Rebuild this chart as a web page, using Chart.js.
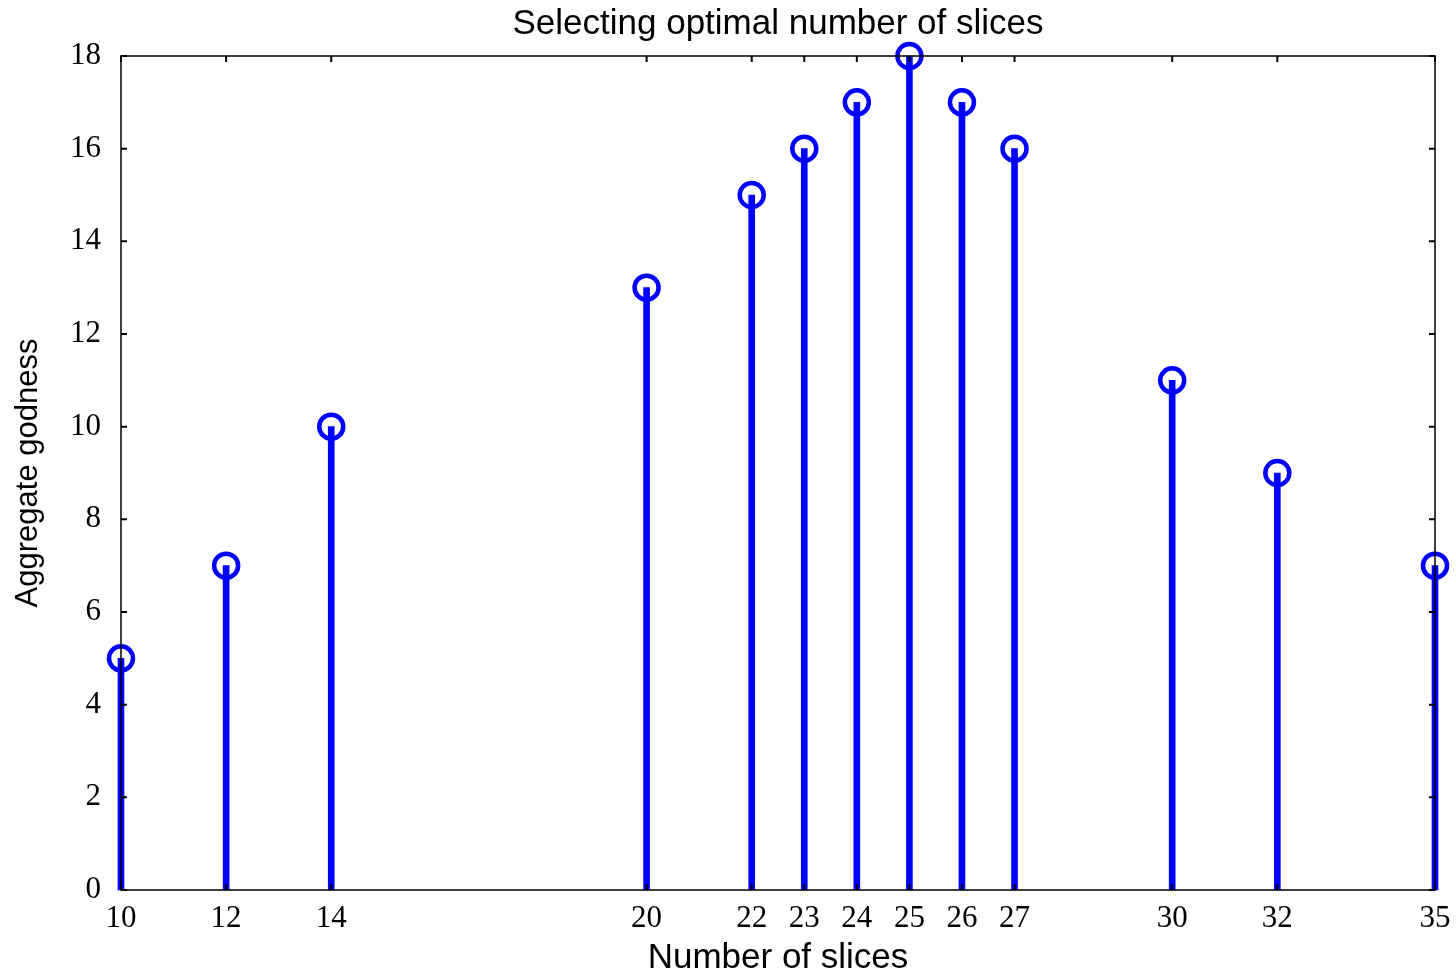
<!DOCTYPE html>
<html>
<head>
<meta charset="utf-8">
<script src="https://cdn.jsdelivr.net/npm/chart.js@4"></script>
<style>
  body { margin: 0; background: #fff; }
</style>
</head>
<body>
<canvas id="myChart" width="1456" height="972"></canvas>
<script>
const slices = [10, 12, 14, 20, 22, 23, 24, 25, 26, 27, 30, 32, 35];
const goodness = [5, 7, 10, 13, 15, 16, 17, 18, 17, 16, 11, 9, 7];
const xTicks = [10, 12, 14, 20, 22, 23, 24, 25, 26, 27, 30, 32, 35];
const yTicks = [0, 2, 4, 6, 8, 10, 12, 14, 16, 18];

const points = slices.map((s, i) => ({ x: s, y: goodness[i] }));

// matlab style box with small inward ticks
const boxPlugin = {
    id: 'box',
    afterLayout(chart) {
        // center the title over the plot area, not the canvas
        const t = chart.titleBlock;
        if (t) {
            t.left = chart.chartArea.left;
            t.right = chart.chartArea.right;
            t.width = t.right - t.left;
        }
    },
    afterDraw(chart) {
        const c = chart.ctx;
        const a = chart.chartArea;
        const xs = chart.scales.x, ys = chart.scales.y;
        c.save();
        c.strokeStyle = '#000';
        c.lineWidth = 1.5;
        c.strokeRect(a.left, a.top, a.right - a.left, a.bottom - a.top);
        c.lineWidth = 2;
        const len = 6;
        c.beginPath();
        yTicks.forEach(v => {
            const y = ys.getPixelForValue(v);
            c.moveTo(a.left, y); c.lineTo(a.left + len, y);
            c.moveTo(a.right, y); c.lineTo(a.right - len, y);
        });
        xTicks.forEach(v => {
            const x = xs.getPixelForValue(v);
            c.moveTo(x, a.bottom); c.lineTo(x, a.bottom - len);
            c.moveTo(x, a.top); c.lineTo(x, a.top + len);
        });
        c.stroke();
        c.restore();
    }
};

const ctx = document.getElementById('myChart').getContext('2d');
const myChart = new Chart(ctx, {
    data: {
        datasets: [{
            type: 'scatter',
            data: points,
            pointStyle: 'circle',
            pointRadius: 12,
            pointBorderWidth: 4.5,
            borderColor: '#0000ff',
            backgroundColor: 'rgba(0,0,0,0)',
            clip: false
        }, {
            type: 'bar',
            data: points,
            backgroundColor: '#0000ff',
            borderWidth: 0,
            barThickness: 6,
            clip: false
        }]
    },
    options: {
        responsive: false,
        devicePixelRatio: 1,
        animation: false,
        layout: { padding: { left: 0, right: 21, top: 0, bottom: 0 } },
        plugins: {
            legend: { display: false },
            tooltip: { enabled: false },
            title: {
                display: true,
                text: 'Selecting optimal number of slices',
                color: '#000',
                font: { family: 'Liberation Sans, Arial', size: 35, weight: 'normal' },
                padding: { top: 3, bottom: 11 }
            }
        },
        scales: {
            x: {
                type: 'linear',
                min: 10,
                max: 35,
                offset: false,
                grid: { display: false },
                border: { display: false },
                afterBuildTicks(scale) {
                    scale.ticks = xTicks.map(v => ({ value: v }));
                },
                afterFit(scale) { scale.height = 82; },
                ticks: {
                    color: '#000',
                    autoSkip: false,
                    maxRotation: 0,
                    padding: 2,
                    font: { family: 'Liberation Serif, Times New Roman', size: 31 }
                },
                title: {
                    display: true,
                    text: 'Number of slices',
                    color: '#000',
                    font: { family: 'Liberation Sans, Arial', size: 35 },
                    padding: { top: 0, bottom: -7 }
                }
            },
            y: {
                min: 0,
                max: 18,
                grid: { display: false },
                border: { display: false },
                afterBuildTicks(scale) {
                    scale.ticks = yTicks.map(v => ({ value: v }));
                },
                afterFit(scale) { scale.width = 121; },
                ticks: {
                    color: '#000',
                    padding: 12,
                    font: { family: 'Liberation Serif, Times New Roman', size: 31 }
                },
                title: {
                    display: true,
                    text: 'Aggregate godness',
                    color: '#000',
                    font: { family: 'Liberation Sans, Arial', size: 31 },
                    padding: { top: 10, bottom: 0 }
                }
            }
        }
    },
    plugins: [boxPlugin]
});
</script>
</body>
</html>
